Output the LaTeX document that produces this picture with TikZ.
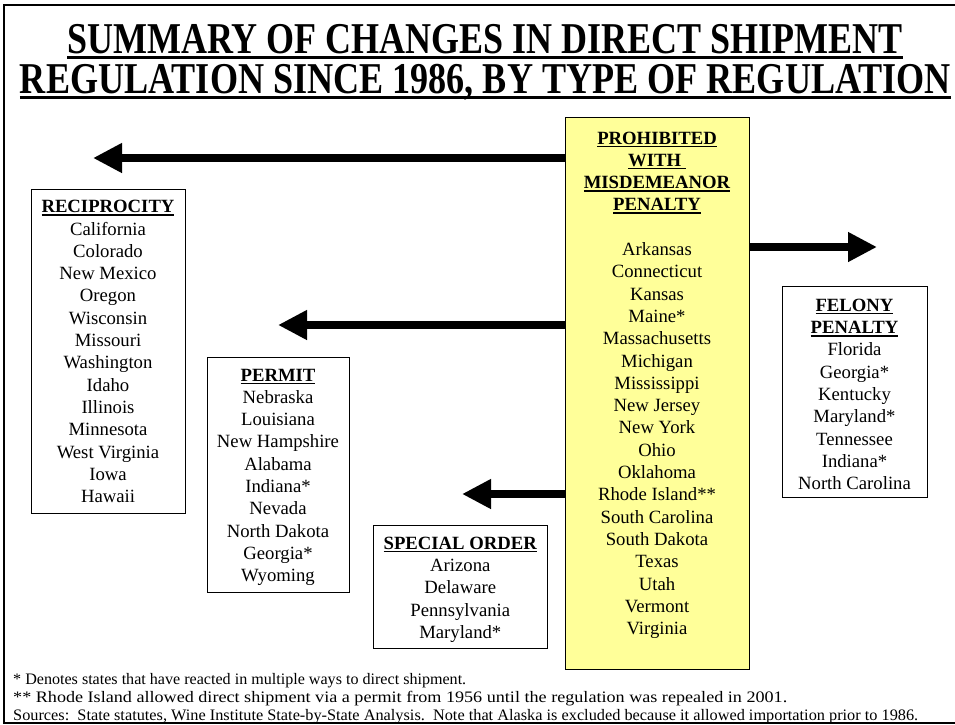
\documentclass[tikz,border=0pt]{standalone}
\usepackage{fontspec}
\setmainfont{Liberation Serif}
\usepackage{graphicx}
\usetikzlibrary{arrows.meta}
\definecolor{yellowbg}{HTML}{FFFF99}
\newsavebox\tbox
\newcommand\hul[1]{\sbox\tbox{\bfseries #1}\rlap{\rule[-3pt]{\wd\tbox}{1.5pt}}\usebox\tbox}
\newcommand\ttlline[2]{\sbox\tbox{\fontsize{44pt}{44pt}\selectfont\bfseries #2}\pgfmathsetmacro\xfac{#1/\the\wd\tbox}\scalebox{\xfac}[1]{\rlap{\rule[-6pt]{\wd\tbox}{3pt}}\usebox\tbox}}
\newcommand\xfit[2]{\sbox\tbox{#2}\pgfmathsetmacro\xfac{#1/\the\wd\tbox}\scalebox{\xfac}[1]{\usebox\tbox}}
\newcommand\stlist[1]{\begin{tabular}[t]{@{}c@{}}#1\end{tabular}}
\begin{document}
\begin{tikzpicture}[x=1pt,y=-1pt,
  regbox/.style={draw=black, line width=1pt, inner sep=0pt, anchor=north west},
  listtext/.style={inner sep=0pt, anchor=base, font=\fontsize{18.7pt}{22.3pt}\selectfont},
  foottext/.style={inner sep=0pt, anchor=base west, font=\fontsize{16pt}{19pt}\selectfont},
  bigarrow/.style={line width=8pt, -{Triangle[length=29pt,width=28pt]}}]
\useasboundingbox (0,0) rectangle (955,724);
\clip (0,0) rectangle (955,724);
% frame
\draw[line width=2pt] (965,5) -- (4,5) -- (4,722.5) -- (965,722.5);
% title
\node[anchor=base, inner sep=0pt] (ttlA) at (485,53) {\ttlline{836}{SUMMARY OF CHANGES IN DIRECT SHIPMENT}};
\node[anchor=base, inner sep=0pt] (ttlB) at (485.5,93) {\ttlline{931}{REGULATION SINCE 1986, BY TYPE OF REGULATION}};
% boxes
\node[regbox, fill=yellowbg, minimum width=184pt, minimum height=552pt] (prohib) at (565,117) {};
\node[regbox, minimum width=154pt, minimum height=324pt] (recip) at (31,189) {};
\node[regbox, minimum width=142pt, minimum height=235pt] (permit) at (207,357) {};
\node[regbox, minimum width=174pt, minimum height=122.5pt] (special) at (373.3,525) {};
\node[regbox, minimum width=145.6pt, minimum height=211pt] (felony) at (781.7,286) {};
% texts
\node[listtext] (prohibT) at (657,144) {\stlist{\hul{PROHIBITED}\\ \hul{WITH\ }\\ \hul{MISDEMEANOR}\\ \hul{PENALTY}\\ \\
 Arkansas\\ Connecticut\\ Kansas\\ Maine*\\ Massachusetts\\ Michigan\\ Mississippi\\ New Jersey\\ New York\\ Ohio\\ Oklahoma\\ Rhode Island**\\ South Carolina\\ South Dakota\\ Texas\\ Utah\\ Vermont\\ Virginia}};
\node[listtext] (recipT) at (108,212.7) {\stlist{\hul{RECIPROCITY}\\ California\\ Colorado\\ New Mexico\\ Oregon\\ Wisconsin\\ Missouri\\ Washington\\ Idaho\\ Illinois\\ Minnesota\\ West Virginia\\ Iowa\\ Hawaii}};
\node[listtext] (permitT) at (278,381) {\stlist{\hul{PERMIT}\\ Nebraska\\ Louisiana\\ New Hampshire\\ Alabama\\ Indiana*\\ Nevada\\ North Dakota\\ Georgia*\\ Wyoming}};
\node[listtext] (specialT) at (460.3,549.3) {\stlist{\hul{SPECIAL ORDER}\\ Arizona\\ Delaware\\ Pennsylvania\\ Maryland*}};
\node[listtext] (felonyT) at (854.5,311.3) {\stlist{\hul{FELONY}\\ \hul{PENALTY}\\ Florida\\ Georgia*\\ Kentucky\\ Maryland*\\ Tennessee\\ Indiana*\\ North Carolina}};
% arrows
\coordinate (tipRecip) at (93,158);
\coordinate (tipPermit) at (278,325);
\coordinate (tipSpecial) at (462,494);
\coordinate (tipFelony) at (877,247);
\draw[bigarrow] (prohib.west |- tipRecip) -- (tipRecip);
\draw[bigarrow] (prohib.west |- tipPermit) -- (tipPermit);
\draw[bigarrow] (prohib.west |- tipSpecial) -- (tipSpecial);
\draw[bigarrow] (prohib.east |- tipFelony) -- (tipFelony);
% footnotes
\node[foottext] (noteA) at (13,684) {\xfit{453}{* Denotes states that have reacted in multiple ways to direct shipment.}};
\node[foottext] (noteB) at (13,702.5) {\xfit{774}{** Rhode Island allowed direct shipment via a permit from 1956 until the regulation was repealed in 2001.}};
\node[foottext] (noteC) at (13,720) {\xfit{905}{Sources:\ \ State statutes, Wine Institute State-by-State Analysis.\ \ Note that Alaska is excluded because it allowed importation prior to 1986.}};
\end{tikzpicture}
\end{document}
